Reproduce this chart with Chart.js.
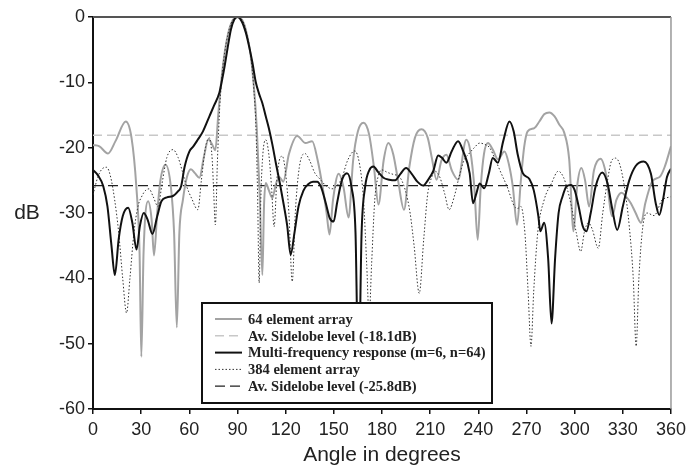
<!DOCTYPE html>
<html>
<head>
<meta charset="utf-8">
<script src="https://cdn.jsdelivr.net/npm/chart.js@4/dist/chart.umd.min.js"></script>
<style>
  html, body { margin: 0; padding: 0; background: #fff; }
</style>
</head>
<body>
<canvas id="beamCanvas" width="691" height="471"></canvas>
<script>
// 64 element array response (dB vs angle)
const angles64 = [0, 4, 9.3, 14, 20.4, 24, 27, 29, 30.1, 31.5, 34.3, 36.5, 38, 40, 42, 45.2, 48.5, 50.5, 52.2, 53.8,
  56, 58.5, 61, 63.5, 66.3, 69, 71.9, 74, 76.2, 78, 80, 82, 84, 86, 88, 90, 92, 94, 96, 98, 100, 102, 103.8, 105.5,
  106.5, 107.6, 109.5, 111.7, 114, 116, 118.5, 122, 127.2, 132.4, 136.5, 140, 143, 145.5, 147.3, 149.5, 153, 156,
  159.2, 162, 165, 168.5, 172, 175, 177.8, 181, 184, 187, 190, 193.7, 197, 200.5, 204.6, 208.5, 211, 214, 217,
  220.1, 223.5, 227.4, 232.5, 235, 237.5, 239.6, 241.5, 243.5, 246, 249, 252.2, 256.3, 259, 261.5, 264.1, 266.5,
  268.5, 270.7, 274.9, 278, 281, 284.2, 287.5, 290.5, 293.5, 296.6, 299.3, 301.5, 304.2, 306.5, 309, 312, 316.2,
  319.5, 323.4, 326, 329.2, 332, 335, 338, 341.4, 344, 348.2, 351, 353.3, 356, 360];
const db64 = [-19.6, -19.8, -20.9, -19.0, -16.0, -18.5, -26, -36, -52.0, -36, -28.2, -31, -36.5, -30, -25, -22.6, -26, -33, -47.5, -33,
  -28, -24.5, -23.3, -23.9, -24.6, -21.5, -18.7, -19.4, -20.4, -15, -9.5, -5.5, -2.7, -1, -0.2, 0, -0.2, -1, -2.8, -5.5, -10, -17, -27, -39.5,
  -29, -25.4, -26.5, -27.7, -25.5, -24.5, -25.2, -21, -18.2, -19.3, -19.0, -22, -26, -30, -33.3, -28, -24.0, -26,
  -30.7, -22, -17.5, -16.2, -18, -23, -28.7, -22, -19.3, -21, -25, -29.5, -23, -18.5, -17.2, -18.5, -21.5, -24.9, -22,
  -21.1, -23.5, -24.9, -18.8, -20.5, -26, -34.1, -26, -21, -19.3, -20.3, -21.8, -20.6, -22.5, -26, -31.8, -25,
  -20, -17.5, -17.0, -16.0, -14.9, -14.6, -15.2, -16.5, -17.7, -21.8, -32.8, -26, -23.1, -25, -29.0, -23.5, -21.7,
  -24, -30.5, -28, -26.9, -27.5, -28.5, -30, -31.5, -28.5, -25.2, -24.7, -24.4, -23, -19.8];

// multi-frequency response (m=6, n=64)
const anglesMulti = [0, 3, 6.4, 9, 11.5, 13.6, 16, 18.5, 21.9, 24.5, 27.1, 29.2, 31.6, 34, 37, 40, 42.6, 46, 49.8, 52.5,
  54.9, 57, 60, 62.5, 65.2, 68.5, 72.5, 75.5, 78.7, 80.5, 82, 84, 85.9, 88, 90, 92.5, 95.2, 97.5, 99.3, 101.4, 103.5,
  105.5, 107.6, 109.5, 111.7, 114, 116.5, 119, 121, 123.1, 125.5, 128, 131, 134, 137, 139.6, 142, 145, 147.5, 149.9,
  152, 155, 158.2, 161, 163.5, 165.4, 167.3, 169.5, 172, 174.7, 177.5, 180.9, 184.5, 188.2, 191.5, 195, 198.5, 202,
  205.7, 208.5, 211.9, 215, 217.5, 220.1, 223.5, 227.4, 230.5, 234.6, 236.7, 238.8, 240.8, 243.7, 246.5, 249, 252.2,
  255.5, 259.4, 262, 264.5, 267.7, 271.8, 274.5, 277.4, 278.6, 281, 283.5, 285.6, 287.8, 290, 292.4, 295, 297.6, 300,
  302.5, 305, 307.3, 310, 313, 317.2, 320.5, 323.5, 326.5, 330, 334, 338, 343, 347.5, 350.5, 352.7, 355, 357.5, 360];
const dbMulti = [-23.4, -24.2, -25.9, -29, -35, -39.5, -34, -30.5, -29.2, -31.5, -35.6, -32, -30.0, -31, -33.2, -30.5, -28.2, -27.6, -27.4, -26.8,
  -25.9, -23, -20.6, -19.8, -18.8, -17.5, -15.2, -13.5, -11.6, -9.5, -7.5, -4.5, -1.9, -0.4, 0, -0.6, -2.4, -4.8, -7.0, -10.0, -11.8,
  -13.2, -15.2, -17, -19.5, -22.5, -25.6, -29, -32, -36.4, -33, -29, -26.6, -25.6, -25.2, -25.2, -26, -28.5, -30.8, -31.3,
  -28.5, -25, -23.9, -26, -33, -56, -33, -26, -23.5, -22.9, -23.7, -24.6, -24.9, -25.0, -24, -23.1, -24, -25.2,
  -25.8, -25, -23.6, -21.2, -21.6, -22.3, -20.5, -19.0, -20.5, -23.9, -28.5, -27, -25.5, -26.2, -24, -21.6, -22.3,
  -19, -16.0, -17.5, -21, -23.9, -24.8, -26.5, -30.5, -32.8, -31.5, -37, -46.9, -37, -30, -27.5, -25.9, -25.7, -26.5,
  -29, -32, -32.8, -30, -26, -23.8, -25.5, -29.5, -32.6, -29, -25, -22.8, -22.1, -24, -28.5, -30.3, -28, -24.5, -23.2];

// 384 element array response
const angles384 = [0, 3, 5.5, 8.5, 11, 13.5, 16, 18.5, 20.9, 23, 25.5, 28, 30.5, 32.5, 34.9, 37.5, 40.5, 43, 46, 49.8,
  53, 55.5, 58, 61.5, 65.3, 67.5, 70, 72.5, 74.3, 75.2, 76.2, 77.5, 79, 80.5, 82, 84, 86, 88, 90, 92, 94, 96, 98, 100,
  101.5, 102.5, 103.5, 104.5, 105.8, 107.6, 109.5, 111.2, 112.8, 114.5, 116, 117.9, 120, 122, 124.1, 126, 128.5, 132,
  135, 138, 141.7, 145, 148.9, 152, 155.1, 158.5, 163, 166, 168.5, 170.5, 172, 173.5, 175.5, 177.5, 179.9, 183.5,
  187.1, 191, 194.5, 197.5, 200, 203.2, 206, 208.5, 211, 213, 216, 219, 221.8, 225, 228, 231, 234.6, 237.5, 240.8,
  244, 247, 250.5, 254.2, 258, 262.5, 264.5, 266.5, 269, 271, 272.8, 274.5, 277, 281, 285.5, 289.8, 293, 295.5, 298,
  301, 303.8, 306, 308.5, 311, 314.7, 317.5, 320.5, 323, 325.5, 328, 331, 334, 336.5, 338.3, 340, 342.5, 345.1,
  349.5, 354.4, 357, 360];
const db384 = [-27.2, -24.5, -23.3, -23.0, -24.5, -28, -33, -40, -45.3, -40, -33, -29, -27.4, -26.6, -26.3, -27.5, -29.0, -25.5, -21.5, -20.3,
  -21.5, -23.5, -25.7, -27.8, -29.5, -25, -20, -18.5, -22, -27, -31.8, -22, -13.5, -8.5, -5.5, -2.7, -1, -0.2, 0, -0.2, -1, -2.8, -5.5, -10.5,
  -17, -27, -40.7, -28, -21, -18.8, -21, -26, -32.1, -25, -22, -21.3, -24, -30, -40.5, -30, -23, -20.9,
  -22, -23.8, -24.9, -25.8, -26.3, -25.8, -24.6, -22, -20.5, -22.5, -28, -38, -46, -38, -28, -24.5, -23.4, -23.8,
  -24.1, -24.5, -26.5, -30, -35, -42.3, -34, -27, -24.5, -23.6, -24.5, -27, -29.5, -27.5, -24.5, -22, -20.8, -20, -19.3,
  -19.5, -20.0, -21.8, -23.9, -26, -29.0, -29.3, -29.0, -33, -42, -50.4, -42, -33, -28, -25.5, -23.6, -24.5, -26.4, -29,
  -33, -35.9, -33, -31.5, -32.5, -35.4, -30, -25, -22, -21.6, -22.5, -26, -32, -40, -50.4, -40, -32, -30.0,
  -30.4, -28.0, -27.7, -27.5];

// average sidelobe levels
const sidelobe64 = -18.1;
const sidelobe384 = -25.8;

const xTicks = [0, 30, 60, 90, 120, 150, 180, 210, 240, 270, 300, 330, 360];

const toPoints = (xs, ys) => xs.map((x, i) => ({ x: x, y: ys[i] }));
const flatLine = (level) => [{ x: 0, y: level }, { x: 360, y: level }];

const FONT = "'Liberation Sans', Arial, sans-serif";

// frame, legend box and axis titles drawn on top of the plot
const decorPlugin = {
  id: 'decor',
  afterDraw(chart) {
    const ctx = chart.ctx;
    const ca = chart.chartArea;
    ctx.save();

    // top and right frame lines
    ctx.strokeStyle = '#555';
    ctx.lineWidth = 2;
    ctx.beginPath();
    ctx.moveTo(ca.left, ca.top);
    ctx.lineTo(ca.right, ca.top);
    ctx.stroke();
    ctx.strokeStyle = '#999';
    ctx.lineWidth = 1.5;
    ctx.beginPath();
    ctx.moveTo(ca.right, ca.top);
    ctx.lineTo(ca.right, ca.bottom);
    ctx.stroke();

    // axis titles
    ctx.fillStyle = '#222';
    ctx.font = '21px ' + FONT;
    ctx.textAlign = 'center';
    ctx.textBaseline = 'middle';
    ctx.fillText('dB', 27, (ca.top + ca.bottom) / 2);
    ctx.fillText('Angle in degrees', (ca.left + ca.right) / 2, 455);

    // legend box
    const bx = 202, by = 303, bw = 290, bh = 100;
    ctx.fillStyle = '#fff';
    ctx.fillRect(bx, by, bw, bh);
    ctx.strokeStyle = '#111';
    ctx.lineWidth = 2;
    ctx.strokeRect(bx, by, bw, bh);

    ctx.font = 'bold 14.5px "Liberation Serif", "Times New Roman", serif';
    ctx.textAlign = 'left';
    chart.data.datasets.forEach((ds, i) => {
      const y = by + 16 + i * 16.8;
      ctx.strokeStyle = ds.borderColor;
      ctx.lineWidth = ds.borderWidth;
      ctx.setLineDash(ds.borderDash || []);
      ctx.beginPath();
      ctx.moveTo(215, y);
      ctx.lineTo(242, y);
      ctx.stroke();
      ctx.setLineDash([]);
      ctx.fillStyle = '#222';
      ctx.fillText(ds.label, 248, y + 1);
    });
    ctx.restore();
  }
};

new Chart(document.getElementById('beamCanvas'), {
  type: 'line',
  data: {
    datasets: [
      {
        label: '64 element array',
        data: toPoints(angles64, db64),
        borderColor: '#a3a3a3',
        borderWidth: 2,
        order: 2
      },
      {
        label: 'Av. Sidelobe level (-18.1dB)',
        data: flatLine(sidelobe64),
        borderColor: '#c8c8c8',
        borderWidth: 1.5,
        borderDash: [9, 5],
        order: 4
      },
      {
        label: 'Multi-frequency response (m=6, n=64)',
        data: toPoints(anglesMulti, dbMulti),
        borderColor: '#111',
        borderWidth: 2,
        order: 0
      },
      {
        label: '384 element array',
        data: toPoints(angles384, db384),
        borderColor: '#333',
        borderWidth: 1,
        borderDash: [1.5, 2],
        order: 1
      },
      {
        label: 'Av. Sidelobe level (-25.8dB)',
        data: flatLine(sidelobe384),
        borderColor: '#222',
        borderWidth: 1.2,
        borderDash: [10, 5],
        order: 3
      }
    ]
  },
  options: {
    responsive: false,
    animation: false,
    cubicInterpolationMode: 'monotone',
    elements: { point: { radius: 0 } },
    layout: { padding: { left: 0, top: 17, right: 17, bottom: 0 } },
    plugins: {
      legend: { display: false },
      tooltip: { enabled: false }
    },
    scales: {
      x: {
        type: 'linear',
        min: 0,
        max: 360,
        afterFit: (scale) => { scale.height = 62; },
        afterBuildTicks: (scale) => { scale.ticks = xTicks.map(v => ({ value: v })); },
        border: { color: '#111', width: 2 },
        grid: { drawOnChartArea: false, drawTicks: true, tickLength: 5, color: '#111', lineWidth: 1.5 },
        ticks: { color: '#222', font: { family: FONT, size: 18 }, padding: 5, maxRotation: 0 }
      },
      y: {
        min: -60,
        max: 0,
        afterFit: (scale) => { scale.width = 93; },
        border: { color: '#111', width: 2 },
        grid: { drawOnChartArea: false, drawTicks: true, tickLength: 5, color: '#111', lineWidth: 1.5 },
        ticks: { stepSize: 10, color: '#222', font: { family: FONT, size: 18 }, padding: 3 }
      }
    }
  },
  plugins: [decorPlugin]
});
</script>
</body>
</html>
